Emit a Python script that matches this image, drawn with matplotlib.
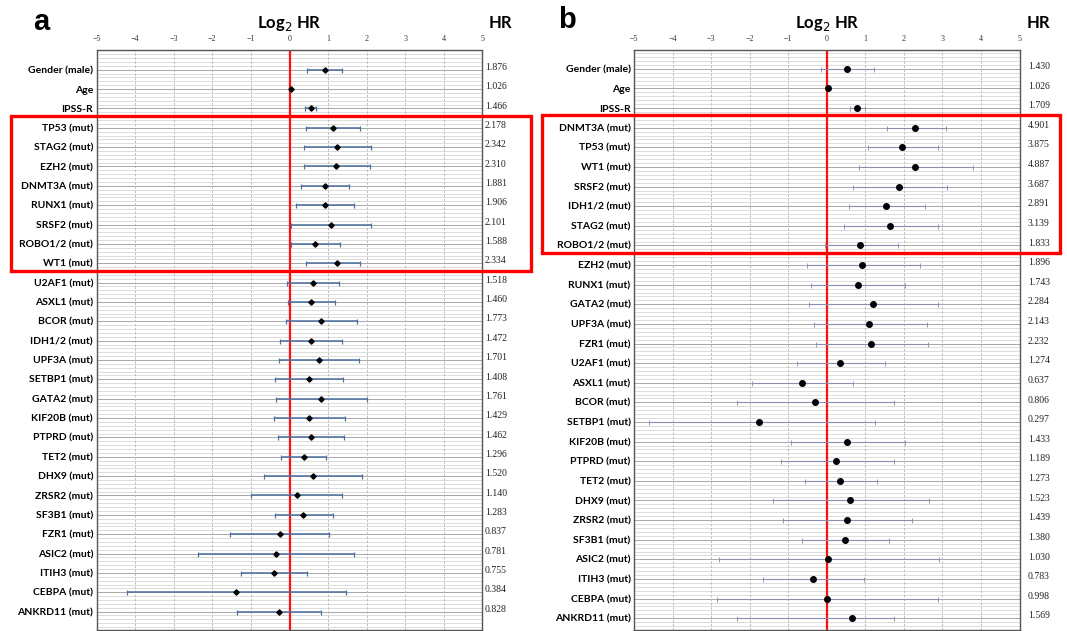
import numpy as np
import matplotlib
matplotlib.use("Agg")
import matplotlib.pyplot as plt
from matplotlib.patches import Rectangle
from matplotlib.transforms import blended_transform_factory

# ---- panel a data ----
labels_a = ["Gender (male)", "Age", "IPSS-R", "TP53 (mut)", "STAG2 (mut)", "EZH2 (mut)",
            "DNMT3A (mut)", "RUNX1 (mut)", "SRSF2 (mut)", "ROBO1/2 (mut)", "WT1 (mut)",
            "U2AF1 (mut)", "ASXL1 (mut)", "BCOR (mut)", "IDH1/2 (mut)", "UPF3A (mut)",
            "SETBP1 (mut)", "GATA2 (mut)", "KIF20B (mut)", "PTPRD (mut)", "TET2 (mut)",
            "DHX9 (mut)", "ZRSR2 (mut)", "SF3B1 (mut)", "FZR1 (mut)", "ASIC2 (mut)",
            "ITIH3 (mut)", "CEBPA (mut)", "ANKRD11 (mut)"]
hr_a = [1.876, 1.026, 1.466, 2.178, 2.342, 2.310, 1.881, 1.906, 2.101, 1.588, 2.334,
        1.518, 1.460, 1.773, 1.472, 1.701, 1.408, 1.761, 1.429, 1.462, 1.296,
        1.520, 1.140, 1.283, 0.837, 0.781, 0.755, 0.384, 0.828]
lo_a = [0.46, 0.02, 0.40, 0.43, 0.38, 0.37, 0.30, 0.18, 0.05, 0.03, 0.42,
        -0.07, -0.05, -0.10, -0.24, -0.26, -0.38, -0.35, -0.41, -0.31, -0.21,
        -0.67, -0.99, -0.38, -1.54, -2.36, -1.26, -4.21, -1.36]
hi_a = [1.37, 0.05, 0.69, 1.82, 2.10, 2.08, 1.54, 1.68, 2.11, 1.30, 1.82,
        1.28, 1.17, 1.75, 1.35, 1.81, 1.39, 2.01, 1.45, 1.40, 0.95,
        1.89, 1.37, 1.12, 1.03, 1.66, 0.44, 1.46, 0.82]

# ---- panel b data ----
labels_b = ["Gender (male)", "Age", "IPSS-R", "DNMT3A (mut)", "TP53 (mut)", "WT1 (mut)",
            "SRSF2 (mut)", "IDH1/2 (mut)", "STAG2 (mut)", "ROBO1/2 (mut)", "EZH2 (mut)",
            "RUNX1 (mut)", "GATA2 (mut)", "UPF3A (mut)", "FZR1 (mut)", "U2AF1 (mut)",
            "ASXL1 (mut)", "BCOR (mut)", "SETBP1 (mut)", "KIF20B (mut)", "PTPRD (mut)",
            "TET2 (mut)", "DHX9 (mut)", "ZRSR2 (mut)", "SF3B1 (mut)", "ASIC2 (mut)",
            "ITIH3 (mut)", "CEBPA (mut)", "ANKRD11 (mut)"]
hr_b = [1.430, 1.026, 1.709, 4.901, 3.875, 4.887, 3.687, 2.891, 3.139, 1.833, 1.896,
        1.743, 2.284, 2.143, 2.232, 1.274, 0.637, 0.806, 0.297, 1.433, 1.189,
        1.273, 1.523, 1.439, 1.380, 1.030, 0.783, 0.998, 1.569]
lo_b = [-0.16, 0.02, 0.60, 1.56, 1.07, 0.84, 0.68, 0.58, 0.45, -0.04, -0.52,
        -0.40, -0.46, -0.34, -0.29, -0.77, -1.95, -2.34, -4.62, -0.92, -1.19,
        -0.56, -1.40, -1.13, -0.65, -2.79, -1.66, -2.86, -2.34]
hi_b = [1.22, 0.06, 1.00, 3.08, 2.88, 3.79, 3.13, 2.54, 2.89, 1.84, 2.43,
        2.04, 2.89, 2.59, 2.63, 1.50, 0.68, 1.75, 1.24, 2.02, 1.74,
        1.30, 2.66, 2.22, 1.62, 2.92, 0.97, 2.88, 1.74]

ticks = [-5, -4, -3, -2, -1, 0, 1, 2, 3, 4, 5]

fig = plt.figure(figsize=(10.67, 6.31), dpi=100)


def panel(rect, labels, hr, lo, hi, ylim, bar_color, bar_lw, marker, ms, hr_x, box):
    ax = fig.add_axes(rect)
    n = len(labels)
    y = np.arange(n)
    logv = np.log2(hr)
    lo = np.array(lo)
    hi = np.array(hi)

    # dense horizontal lines
    for yy in np.arange(-2, n + 2, 0.2):
        ax.axhline(yy, color="#cfcfcf", lw=0.5, zorder=0)
    for yy in y:
        ax.axhline(yy, color="#a8a8a8", lw=0.7, zorder=0)
    for t in ticks[1:-1]:
        ax.axvline(t, color="#b5b5b5", lw=0.6, ls=(0, (3, 2)), zorder=1)
    ax.axvline(0, color="#ff1010", lw=1.6, zorder=2)

    ax.errorbar(logv, y, xerr=[logv - lo, hi - logv], fmt="none", ecolor=bar_color,
                elinewidth=bar_lw, capsize=1.8, capthick=bar_lw * 0.8, zorder=3)
    ax.plot(logv, y, ls="none", marker=marker, color="black", ms=ms, zorder=4)

    ax.set_xlim(-5, 5)
    ax.set_ylim(*ylim)
    ax.xaxis.tick_top()
    ax.set_xticks(ticks)
    ax.set_xticklabels([str(t).replace("-", "\u2212") for t in ticks],
                       fontfamily="Liberation Serif", fontsize=5.8, color="#333333")
    ax.set_yticks(y)
    ax.set_yticklabels(labels, fontfamily="Lato", fontweight="bold", fontsize=7.5)
    ax.tick_params(axis="both", length=0)
    ax.tick_params(axis="x", pad=5)
    ax.tick_params(axis="y", pad=2.5)
    for s in ax.spines.values():
        s.set_color("#555555")
        s.set_linewidth(1.0)

    tr = blended_transform_factory(fig.transFigure, ax.transData)
    for yy, h in zip(y, hr):
        ax.text(hr_x, yy - 0.12, f"{h:.3f}", transform=tr, ha="left", va="center",
                fontfamily="Liberation Serif", fontsize=7, color="#222222")

    x0, x1, y0, y1 = box
    ax.add_patch(Rectangle((x0, y0), x1 - x0, y1 - y0, transform=tr, fill=False,
                           edgecolor="#ff0000", lw=2.4, clip_on=False, zorder=10))
    return ax


ax_a = panel([0.0905, 0.0016, 0.3617, 0.9195], labels_a, hr_a, lo_a, hi_a,
             (28.95, -1.03), "#4c6f9f", 1.1, "D", 2.7, 0.4545,
             (0.0105, 0.4975, 2.39, 10.40))
ax_b = panel([0.5942, 0.0016, 0.3613, 0.9185], labels_b, hr_b, lo_b, hi_b,
             (28.6, -0.94), "#8a8fb0", 0.8, "o", 4.0, 0.9635,
             (0.508, 0.9935, 2.37, 9.40))

# titles
fig.text(0.271, 0.963, "Log$_2$ HR", ha="center", va="center", fontsize=12,
         fontweight="bold", fontfamily="Lato")
fig.text(0.469, 0.963, "HR", ha="center", va="center", fontsize=12,
         fontweight="bold", fontfamily="Lato")
fig.text(0.039, 0.965, "a", ha="center", va="center", fontsize=21, fontweight="bold",
         fontfamily="Liberation Sans")
fig.text(0.775, 0.963, "Log$_2$ HR", ha="center", va="center", fontsize=12,
         fontweight="bold", fontfamily="Lato")
fig.text(0.973, 0.963, "HR", ha="center", va="center", fontsize=12,
         fontweight="bold", fontfamily="Lato")
fig.text(0.531, 0.968, "b", ha="center", va="center", fontsize=21, fontweight="bold",
         fontfamily="Liberation Sans")

fig.savefig("out.png", dpi=100)
